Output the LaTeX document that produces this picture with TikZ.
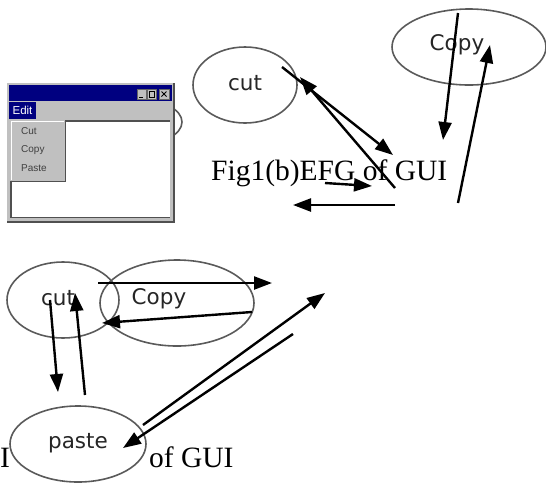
\documentclass[tikz,border=0pt]{standalone}
\usepackage{fontspec}
\setmainfont{Liberation Serif}
\newfontfamily\lblfont{DejaVu Sans}
\newfontfamily\winfont{Liberation Sans}
\usetikzlibrary{shapes.geometric,arrows.meta}
\definecolor{navy}{HTML}{000080}
\definecolor{wingray}{HTML}{C0C0C0}
\definecolor{edgegray}{HTML}{5A5A5A}
\definecolor{shadowgray}{HTML}{505050}
\begin{document}
\begin{tikzpicture}[x=1pt,y=-1pt,
  state/.style={ellipse, draw=edgegray, line width=1.6pt, inner sep=0pt},
  lbl/.style={font=\lblfont\fontsize{21.5}{23}\selectfont, text=black!85},
  arr/.style={line width=2.4pt, -{Triangle[length=18pt,width=13pt]}},
  figcap/.style={font=\fontsize{29.5}{31}\selectfont, anchor=base west, inner sep=0pt},
  wintext/.style={font=\winfont\fontsize{10}{11}\selectfont, text=black!75, inner sep=0pt, anchor=west},
  winbtn/.style={draw=black!60, fill=wingray, line width=0.6pt}]
\useasboundingbox (0,0) rectangle (546,483);

% captions
\node[figcap] (capA) at (211,180) {Fig1(b)EFG of GUI};
\node[figcap] (capB1) at (0,467) {I};
\node[figcap] (capB2) at (149,467) {of GUI};

% ellipse partly hidden behind the window
\node[state, minimum width=82pt, minimum height=44pt] (hid) at (141,122) {};

% window screenshot
\fill[shadowgray] (7,83) rectangle (175,223);
\fill[wingray] (7,83) rectangle (173,221);
\fill[navy] (9,85) rectangle (172,101);
\draw[winbtn] (137,89) rectangle (146,99);
\draw[winbtn] (147.5,89) rectangle (156.5,99);
\draw[winbtn] (159,89) rectangle (169,99);
\draw[line width=1pt] (139,97) -- (143,97);
\draw[line width=0.8pt] (149.5,91) rectangle (154.5,97);
\draw[line width=0.8pt] (161.5,91.5) -- (166.5,96.5) (166.5,91.5) -- (161.5,96.5);
\fill[navy] (9,102) rectangle (36,119);
\node[font=\winfont\fontsize{11.5}{12}\selectfont, text=white, inner sep=0pt] (edit) at (22.5,110.5) {Edit};
\fill[shadowgray] (10,119.5) rectangle (170,218);
\fill[white] (12,122) rectangle (170,216.5);
\fill[shadowgray] (10,120) rectangle (66,182);
\fill[wingray] (10,120) rectangle (64.5,180.5);
\draw[white, line width=0.8pt] (11,180) -- (11,121) -- (64,121);
\node[wintext] (mcut) at (21,131) {Cut};
\node[wintext] (mcopy) at (21,150) {Copy};
\node[wintext] (mpaste) at (21,168) {Paste};

% top states
\node[state, minimum width=104pt, minimum height=76pt,
      label={[lbl, yshift=2pt]center:cut}] (cutA) at (245,85) {};
\node[state, minimum width=154pt, minimum height=76pt,
      label={[lbl, xshift=-12pt, yshift=2pt]center:Copy}] (copyA) at (469,47) {};

% bottom states
\node[state, minimum width=112pt, minimum height=76pt,
      label={[lbl, xshift=-5pt, yshift=2pt]center:cut}] (cutB) at (63,300) {};
\node[state, minimum width=154pt, minimum height=86pt,
      label={[lbl, xshift=-18pt, yshift=4pt]center:Copy}] (copyB) at (177,303) {};

% arrow end points
\coordinate (a1s) at (458,13);  \coordinate (a1e) at (443,140);
\coordinate (a2s) at (458,203); \coordinate (a2e) at (490,45);
\coordinate (a3s) at (282,67);  \coordinate (a3e) at (393,155);
\coordinate (a4s) at (395,188); \coordinate (a4e) at (300,77);
\coordinate (a5s) at (325,183); \coordinate (a5e) at (372,186);
\coordinate (a6s) at (395,205); \coordinate (a6e) at (293,205);
\coordinate (b1s) at (98,283);  \coordinate (b1e) at (272,283);
\coordinate (b2s) at (252,312); \coordinate (b2e) at (102,323);
\coordinate (b3s) at (50,300);  \coordinate (b3e) at (58,392);
\coordinate (b4s) at (85,395);  \coordinate (b4e) at (75,293);
\coordinate (b5s) at (143,425); \coordinate (b5e) at (325,293);
\coordinate (b6s) at (293,334); \coordinate (b6e) at (123,448);

% paste state (white, covers part of the caption)
\node[state, fill=white, minimum width=136pt, minimum height=76pt,
      label={[lbl, yshift=1pt]center:paste}] (pasteB) at (78,444) {};

% arrows
\draw[arr] (a1s) -- (a1e);
\draw[arr] (a2s) -- (a2e);
\draw[arr] (a3s) -- (a3e);
\draw[arr] (a4s) -- (a4e);
\draw[arr] (a5s) -- (a5e);
\draw[arr] (a6s) -- (a6e);
\draw[arr] (b1s) -- (b1e);
\draw[arr] (b2s) -- (b2e);
\draw[arr] (b3s) -- (b3e);
\draw[arr] (b4s) -- (b4e);
\draw[arr] (b5s) -- (b5e);
\draw[arr] (b6s) -- (b6e);
\end{tikzpicture}
\end{document}
